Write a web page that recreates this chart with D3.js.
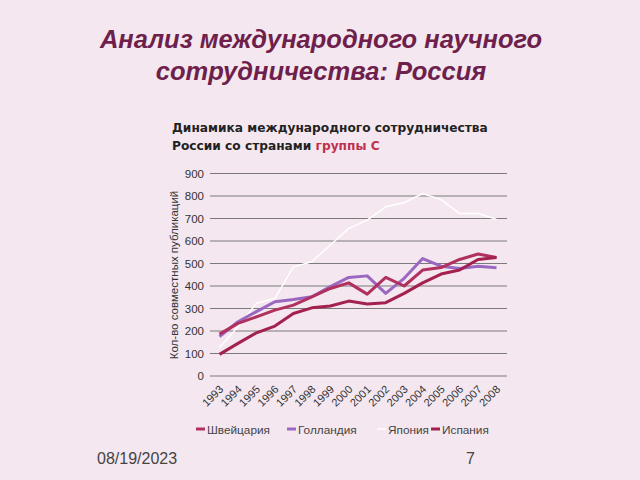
<!DOCTYPE html>
<html><head><meta charset="utf-8">
<script src="https://cdn.jsdelivr.net/npm/d3@7"></script>
<style>body{margin:0;background:#f4e7ef;}svg{display:block;}</style>
</head><body>
<svg id="c" width="640" height="480"></svg>
<script>
const years = ["1993","1994","1995","1996","1997","1998","1999","2000","2001","2002","2003","2004","2005","2006","2007","2008"];
const seriesNames = ["Швейцария","Голландия","Япония","Испания"];
const switzerland = [186,234,263,293,315,352,389,414,364,438,400,471,482,518,542,527];
const netherlands = [175,241,286,330,340,352,397,438,445,367,434,522,488,478,488,481];
const japan = [127,219,323,345,485,508,582,656,693,752,770,811,784,722,722,696];
const spain = [96,145,192,222,278,303,311,333,320,326,367,414,453,471,518,527];
const seriesColors = ["#b0305e","#9a68c0","#ffffff","#a3204f"];
const yTicks = [0,100,200,300,400,500,600,700,800,900];

const svg = d3.select("#c");
svg.append("rect").attr("width",640).attr("height",480).attr("fill","#f4e7ef");

const titleG = svg.append("g").attr("font-family","Liberation Sans, Arial, sans-serif")
  .attr("font-size",25.5).attr("font-weight","bold").attr("font-style","italic")
  .attr("fill","#6e1f4c").attr("text-anchor","middle");
titleG.append("text").attr("x",321).attr("y",48).text("Анализ международного научного");
titleG.append("text").attr("x",321).attr("y",80).text("сотрудничества: Россия");

const sub = svg.append("g").attr("font-family","DejaVu Sans, Verdana, sans-serif")
  .attr("font-size",12.2).attr("font-weight","bold").attr("fill","#222");
sub.append("text").attr("x",172).attr("y",132).text("Динамика международного сотрудничества");
const t2 = sub.append("text").attr("x",172).attr("y",150);
t2.append("tspan").text("России со странами  ");
t2.append("tspan").attr("fill","#c0304a").text("группы С");

const x = d3.scalePoint().domain(years).range([219.5,496.5]);
const y = d3.scaleLinear().domain([0,900]).range([376,173.5]);

const g = svg.append("g");
g.selectAll("line.grid").data(yTicks).join("line")
  .attr("x1",210).attr("x2",507).attr("y1",d=>y(d)).attr("y2",d=>y(d))
  .attr("stroke","#7a7a7a").attr("stroke-width",1);

const yAxis = g.append("g").attr("transform","translate(210,0)")
  .call(d3.axisLeft(y).tickValues(yTicks).tickSize(0).tickPadding(6));
yAxis.select(".domain").remove();
yAxis.selectAll("text").attr("font-family","Liberation Sans, Arial, sans-serif")
  .attr("font-size",11.5).attr("fill","#333");

const xAxis = g.append("g").attr("transform","translate(0,376)")
  .call(d3.axisBottom(x).tickSize(0));
xAxis.select(".domain").remove();
xAxis.selectAll("text").attr("font-family","Liberation Sans, Arial, sans-serif")
  .attr("font-size",11).attr("fill","#333")
  .attr("text-anchor","end").attr("dy",0).attr("y",0)
  .attr("transform","translate(4,14) rotate(-45)");

svg.append("text").attr("transform","translate(178,275) rotate(-90)")
  .attr("text-anchor","middle").attr("font-family","Liberation Sans, Arial, sans-serif")
  .attr("font-size",11.5).attr("fill","#333").text("Кол-во совместных публикаций");

const data = [switzerland, netherlands, japan, spain];
const line = d3.line().x((d,i)=>x(years[i])).y(d=>y(d));
const order = [2,1,0,3];
order.forEach(k=>{
  g.append("path").datum(data[k]).attr("d",line).attr("fill","none")
    .attr("stroke",seriesColors[k]).attr("stroke-width",k===2?1.5:3)
    .attr("stroke-linejoin","round");
});

const legX = [196,287,377,431];
const leg = svg.append("g").attr("font-family","Liberation Sans, Arial, sans-serif").attr("font-size",11.8).attr("fill","#444");
seriesNames.forEach((n,i)=>{
  leg.append("line").attr("x1",legX[i]).attr("x2",legX[i]+9).attr("y1",429).attr("y2",429)
    .attr("stroke",seriesColors[i]).attr("stroke-width",i===2?1.5:3);
  leg.append("text").attr("x",legX[i]+11).attr("y",433.5).text(n);
});

svg.append("text").attr("x",97).attr("y",464).attr("font-family","Liberation Sans, Arial, sans-serif")
  .attr("font-size",16).attr("fill","#444").text("08/19/2023");
svg.append("text").attr("x",466).attr("y",464).attr("font-family","Liberation Sans, Arial, sans-serif")
  .attr("font-size",16).attr("fill","#444").text("7");
</script>
</body></html>
